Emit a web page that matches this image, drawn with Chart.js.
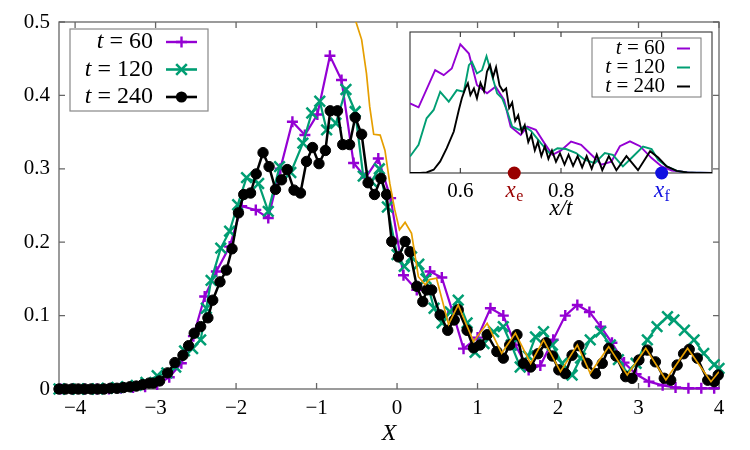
<!DOCTYPE html>
<html><head><meta charset="utf-8">
<script src="https://cdn.jsdelivr.net/npm/chart.js@4.4.1/dist/chart.umd.min.js"></script>
<style>
html,body{margin:0;padding:0;background:#fff;}
#wrap{position:relative;width:750px;height:450px;}
canvas{position:absolute;left:0;top:0;}
</style></head><body>
<div id="wrap"><canvas id="main" width="750" height="450"></canvas><canvas id="inset" width="750" height="450"></canvas></div>
<script>
// ---------- main chart data ----------
const times = [60, 120, 240];
const xTicks = [-4,-3,-2,-1,0,1,2,3,4];
const xTickLabels = ['−4','−3','−2','−1','0','1','2','3','4'];
const yTicks = [0,0.1,0.2,0.3,0.4,0.5];
const yTickLabels = ['0','0.1','0.2','0.3','0.4','0.5'];

const t60X = [-4.18,-4.03,-3.88,-3.73,-3.58,-3.43,-3.28,-3.13,-2.98,-2.83,-2.68,-2.53,-2.39,-2.245,-2.08,-1.93,-1.755,-1.60,-1.45,-1.30,-1.145,-0.99,-0.834,-0.69,-0.54,-0.39,-0.233,-0.08,0.08,0.245,0.41,0.556,0.69,0.826,1.00,1.16,1.32,1.47,1.635,1.78,1.94,2.09,2.24,2.39,2.53,2.67,2.82,2.97,3.13,3.30,3.46,3.62,3.78,3.94];
const t60Y = [0,0,0,0,0,0.001,0.002,0.003,0.006,0.016,0.035,0.072,0.126,0.160,0.194,0.249,0.244,0.233,0.300,0.364,0.346,0.374,0.454,0.421,0.308,0.288,0.314,0.260,0.155,0.135,0.160,0.152,0.105,0.055,0.070,0.110,0.100,0.060,0.026,0.032,0.067,0.100,0.1145,0.105,0.085,0.063,0.036,0.020,0.010,0.005,0.002,0.001,0.001,0.001];

const t120X = [-4.20,-4.08,-3.96,-3.84,-3.72,-3.60,-3.48,-3.36,-3.24,-3.12,-2.98,-2.86,-2.75,-2.64,-2.54,-2.44,-2.37,-2.31,-2.19,-2.08,-1.98,-1.87,-1.72,-1.60,-1.46,-1.32,-1.17,-1.06,-0.96,-0.875,-0.76,-0.635,-0.52,-0.42,-0.32,-0.22,-0.12,0.00,0.09,0.18,0.27,0.36,0.46,0.56,0.66,0.76,0.87,0.97,1.08,1.20,1.32,1.42,1.53,1.63,1.72,1.82,1.93,2.05,2.175,2.28,2.40,2.53,2.65,2.75,2.86,2.97,3.11,3.23,3.36,3.44,3.57,3.69,3.81,3.94,4.00];
const t120Y = [0,0,0,0,0,0.001,0.002,0.003,0.005,0.009,0.018,0.022,0.030,0.052,0.055,0.067,0.110,0.148,0.192,0.215,0.251,0.288,0.280,0.242,0.303,0.295,0.335,0.376,0.392,0.353,0.362,0.408,0.378,0.290,0.283,0.300,0.248,0.183,0.167,0.180,0.170,0.150,0.110,0.090,0.105,0.121,0.090,0.050,0.062,0.078,0.085,0.060,0.030,0.045,0.071,0.078,0.060,0.035,0.019,0.042,0.067,0.078,0.060,0.040,0.022,0.035,0.067,0.085,0.0986,0.094,0.080,0.067,0.0486,0.033,0.028];

const t240X = [-4.20,-4.12,-4.04,-3.96,-3.88,-3.80,-3.72,-3.64,-3.56,-3.48,-3.40,-3.32,-3.24,-3.16,-3.08,-3.03,-2.95,-2.85,-2.76,-2.66,-2.59,-2.52,-2.44,-2.35,-2.29,-2.20,-2.12,-2.05,-1.97,-1.905,-1.82,-1.75,-1.665,-1.59,-1.51,-1.435,-1.365,-1.28,-1.20,-1.125,-1.05,-0.97,-0.89,-0.83,-0.74,-0.675,-0.59,-0.52,-0.44,-0.36,-0.28,-0.20,-0.13,-0.066,0.017,0.10,0.16,0.245,0.32,0.37,0.43,0.535,0.63,0.71,0.76,0.87,0.95,1.03,1.12,1.24,1.32,1.40,1.49,1.57,1.66,1.75,1.85,1.93,2.01,2.09,2.175,2.26,2.36,2.465,2.55,2.63,2.72,2.84,2.92,3.005,3.11,3.21,3.32,3.40,3.48,3.56,3.63,3.73,3.86,3.94,3.99];
const t240Y = [0,0,0,0,0,0,0,0,0.001,0.001,0.002,0.003,0.004,0.006,0.008,0.008,0.011,0.022,0.036,0.046,0.059,0.076,0.085,0.097,0.121,0.146,0.162,0.191,0.240,0.265,0.267,0.293,0.322,0.303,0.272,0.285,0.299,0.271,0.267,0.310,0.329,0.307,0.325,0.379,0.379,0.333,0.333,0.370,0.347,0.281,0.265,0.287,0.265,0.201,0.180,0.201,0.187,0.140,0.119,0.135,0.135,0.101,0.080,0.094,0.108,0.080,0.056,0.060,0.074,0.051,0.042,0.060,0.074,0.035,0.030,0.048,0.063,0.045,0.026,0.021,0.046,0.059,0.035,0.021,0.035,0.0555,0.045,0.0168,0.0146,0.0395,0.053,0.037,0.0146,0.012,0.0327,0.048,0.054,0.042,0.012,0.010,0.019];

const theoryX = [-0.56,-0.51,-0.44,-0.38,-0.34,-0.29,-0.21,-0.15,-0.09,-0.03,0.03,0.10,0.18,0.265,0.35,0.40,0.49,0.64,0.76,0.95,1.12,1.30,1.47,1.66,1.82,2.03,2.24,2.40,2.63,2.86,3.09,3.34,3.61,3.90,4.00];
const theoryY = [0.56,0.50,0.476,0.43,0.385,0.347,0.346,0.325,0.280,0.245,0.217,0.227,0.212,0.153,0.142,0.149,0.151,0.088,0.1145,0.0645,0.0895,0.0486,0.076,0.035,0.0668,0.0236,0.060,0.0214,0.0577,0.019,0.0555,0.0123,0.0555,0.010,0.0236];

// ---------- inset data (x/t) ----------
const insetTicks = [0.6, 0.7071, 0.8, 1.0];
const insetTickLabels = ['0.6', '', '0.8', ''];
const markerX = [0.7071, 1.0];
const markerSub = ['e', 'f'];

const in60X = [0.50,0.517,0.55,0.567,0.583,0.60,0.617,0.633,0.653,0.67,0.687,0.70,0.72,0.733,0.75,0.767,0.783,0.80,0.82,0.84,0.867,0.88,0.90,0.917,0.937,0.957,0.98,1.00,1.02,1.053,1.10];
const in60Y = [0.494,0.466,0.73,0.694,0.741,0.913,0.847,0.624,0.565,0.612,0.518,0.329,0.27,0.329,0.306,0.212,0.129,0.16,0.223,0.20,0.106,0.059,0.08,0.19,0.225,0.19,0.106,0.047,0.018,0.004,0];

const in120X = [0.50,0.517,0.533,0.547,0.56,0.577,0.593,0.607,0.617,0.623,0.633,0.643,0.652,0.66,0.673,0.683,0.693,0.703,0.717,0.727,0.74,0.76,0.777,0.793,0.81,0.83,0.847,0.867,0.887,0.903,0.923,0.943,0.963,0.98,0.993,1.01,1.03,1.05,1.10];
const in120Y = [0.117,0.20,0.388,0.447,0.576,0.506,0.588,0.576,0.765,0.788,0.706,0.729,0.828,0.729,0.565,0.53,0.44,0.329,0.306,0.33,0.30,0.212,0.141,0.176,0.17,0.141,0.094,0.07,0.141,0.129,0.047,0.117,0.188,0.169,0.094,0.047,0.015,0.004,0];

const in240X = [0.50,0.52,0.533,0.547,0.56,0.573,0.587,0.597,0.603,0.61,0.615,0.62,0.627,0.633,0.64,0.647,0.653,0.659,0.665,0.671,0.678,0.685,0.691,0.697,0.703,0.709,0.715,0.722,0.728,0.735,0.741,0.748,0.754,0.761,0.768,0.775,0.782,0.79,0.798,0.807,0.815,0.824,0.833,0.842,0.851,0.861,0.871,0.882,0.895,0.91,0.93,0.953,0.977,0.993,1.01,1.03,1.05,1.07,1.10];
const in240Y = [0,0.001,0.004,0.023,0.082,0.176,0.294,0.447,0.53,0.60,0.636,0.553,0.60,0.53,0.64,0.58,0.72,0.765,0.68,0.75,0.62,0.58,0.60,0.46,0.50,0.37,0.41,0.29,0.34,0.22,0.27,0.16,0.22,0.12,0.19,0.10,0.16,0.08,0.14,0.06,0.13,0.05,0.12,0.04,0.12,0.03,0.13,0.02,0.12,0.02,0.12,0.02,0.155,0.11,0.047,0.015,0.004,0.001,0];

// ---------- helpers ----------
const pts = (xs, ys) => xs.map((x, i) => ({x, y: ys[i]}));
const COL = {p: '#9400D3', g: '#009E73', k: '#000000', o: '#E69F00', e: '#990000', f: '#1010E0'};
const SERIF = '"Liberation Serif", "DejaVu Serif", serif';

function drawMark(ctx, style, cx, cy, r, color, lw) {
  ctx.save();
  ctx.strokeStyle = color; ctx.fillStyle = color; ctx.lineWidth = lw;
  ctx.beginPath();
  if (style === 'cross') { ctx.moveTo(cx - r, cy); ctx.lineTo(cx + r, cy); ctx.moveTo(cx, cy - r); ctx.lineTo(cx, cy + r); ctx.stroke(); }
  else if (style === 'crossRot') { const d = r * 0.7071; ctx.moveTo(cx - d, cy - d); ctx.lineTo(cx + d, cy + d); ctx.moveTo(cx + d, cy - d); ctx.lineTo(cx - d, cy + d); ctx.stroke(); }
  else if (style === 'circle') { ctx.arc(cx, cy, r, 0, Math.PI * 2); ctx.fill(); }
  ctx.restore();
}

function drawTLabel(ctx, t, rightX, cy, size) {
  const rest = ' = ' + t;
  ctx.font = size + 'px ' + SERIF;
  const w2 = ctx.measureText(rest).width;
  ctx.font = 'italic ' + size + 'px ' + SERIF;
  const w1 = ctx.measureText('t').width;
  ctx.textBaseline = 'middle'; ctx.textAlign = 'left'; ctx.fillStyle = '#000';
  ctx.fillText('t', rightX - w1 - w2, cy);
  ctx.font = size + 'px ' + SERIF;
  ctx.fillText(rest, rightX - w2, cy);
}

const mainStyles = [
  {c: COL.p, s: 'cross', r: 5.5, lw: 2.4},
  {c: COL.g, s: 'crossRot', r: 7.5, lw: 2.6},
  {c: COL.k, s: 'circle', r: 5.6, lw: 2.6}
];

const mainDecor = {
  id: 'mainDecor',
  beforeDatasetsDraw(chart) {
    const {ctx, chartArea: a, scales: {x, y}} = chart;
    ctx.save();
    ctx.strokeStyle = '#666'; ctx.lineWidth = 1.3;
    ctx.strokeRect(a.left, a.top, a.right - a.left, a.bottom - a.top);
    ctx.beginPath();
    x.ticks.forEach(t => { const px = x.getPixelForValue(t.value); ctx.moveTo(px, a.bottom); ctx.lineTo(px, a.bottom - 6); ctx.moveTo(px, a.top); ctx.lineTo(px, a.top + 6); });
    y.ticks.forEach(t => { const py = y.getPixelForValue(t.value); ctx.moveTo(a.left, py); ctx.lineTo(a.left + 6, py); ctx.moveTo(a.right, py); ctx.lineTo(a.right - 6, py); });
    ctx.stroke();
    ctx.restore();
  },
  afterDatasetsDraw(chart) {
    const ctx = chart.ctx;
    ctx.save();
    ctx.fillStyle = '#fff'; ctx.strokeStyle = '#888'; ctx.lineWidth = 1.2;
    ctx.fillRect(70, 29, 138, 82); ctx.strokeRect(70, 29, 138, 82);
    const rows = [42, 69.5, 97];
    times.forEach((t, i) => {
      drawTLabel(ctx, t, 153, rows[i], 24);
      const st = mainStyles[i];
      ctx.strokeStyle = st.c; ctx.lineWidth = st.lw;
      ctx.beginPath(); ctx.moveTo(166, rows[i]); ctx.lineTo(197, rows[i]); ctx.stroke();
      drawMark(ctx, st.s, 181.5, rows[i], st.r, st.c, st.s === 'circle' ? 1 : st.lw);
    });
    ctx.restore();
  }
};

new Chart(document.getElementById('main'), {
  type: 'scatter',
  data: {
    datasets: [
      {label: 'theory', data: pts(theoryX, theoryY), showLine: true, borderColor: COL.o, borderWidth: 1.7, pointRadius: 0, fill: false, tension: 0},
      {label: 't = 240', data: pts(t240X, t240Y), showLine: true, borderColor: COL.k, borderWidth: 2.5, pointStyle: 'circle', pointRadius: 5.2, pointBorderWidth: 1, pointBackgroundColor: COL.k, pointBorderColor: COL.k, clip: false},
      {label: 't = 120', data: pts(t120X, t120Y), showLine: true, borderColor: COL.g, borderWidth: 2.2, pointStyle: 'crossRot', pointRadius: 7.5, pointBorderWidth: 2.5, pointBorderColor: COL.g, clip: false},
      {label: 't = 60', data: pts(t60X, t60Y), showLine: true, borderColor: COL.p, borderWidth: 2.2, pointStyle: 'cross', pointRadius: 5.5, pointBorderWidth: 2.4, pointBorderColor: COL.p, clip: false}
    ]
  },
  options: {
    responsive: false, animation: false, devicePixelRatio: 1,
    layout: {padding: {top: 22, right: 31, left: 0, bottom: 0}},
    plugins: {legend: {display: false}, tooltip: {enabled: false}},
    scales: {
      x: {
        type: 'linear', min: -4.2, max: 4,
        afterBuildTicks: s => { s.ticks = xTicks.map(v => ({value: v})); },
        afterFit: s => { s.height = 61; },
        grid: {display: false, drawTicks: false}, border: {display: false},
        ticks: {padding: 7, color: '#000', font: {family: SERIF, size: 21}, maxRotation: 0,
          callback: (v) => xTickLabels[xTicks.indexOf(v)] ?? ''},
        title: {display: true, text: 'X', color: '#000', font: {family: SERIF, size: 24, style: 'italic'}, padding: {top: 0, bottom: 2}}
      },
      y: {
        type: 'linear', min: 0, max: 0.5,
        afterBuildTicks: s => { s.ticks = yTicks.map(v => ({value: v})); },
        afterFit: s => { s.width = 59; },
        grid: {display: false, drawTicks: false}, border: {display: false},
        ticks: {padding: 9, color: '#000', font: {family: SERIF, size: 21},
          callback: (v) => yTickLabels[yTicks.indexOf(v)] ?? ''}
      }
    }
  },
  plugins: [mainDecor]
});

// ---------- inset ----------
const insetStyles = [COL.p, COL.g, COL.k];
const insetDecor = {
  id: 'insetDecor',
  beforeDatasetsDraw(chart) {
    const {ctx, chartArea: a, scales: {x}} = chart;
    ctx.save();
    ctx.fillStyle = '#fff';
    ctx.fillRect(a.left, a.top, a.right - a.left, a.bottom - a.top);
    ctx.strokeStyle = '#333'; ctx.lineWidth = 1.1;
    ctx.strokeRect(a.left, a.top, a.right - a.left, a.bottom - a.top);
    ctx.beginPath();
    x.ticks.forEach(t => { const px = x.getPixelForValue(t.value); ctx.moveTo(px, a.bottom); ctx.lineTo(px, a.bottom - 5); ctx.moveTo(px, a.top); ctx.lineTo(px, a.top + 5); });
    ctx.stroke();
    ctx.restore();
  },
  afterDatasetsDraw(chart) {
    const {ctx, chartArea: a, scales: {x}} = chart;
    ctx.save();
    // legend
    ctx.fillStyle = '#fff'; ctx.strokeStyle = '#777'; ctx.lineWidth = 1;
    ctx.fillRect(592, 38, 109, 59); ctx.strokeRect(592, 38, 109, 59);
    const rows = [48.5, 67.5, 86.5];
    times.forEach((t, i) => {
      drawTLabel(ctx, t, 665, rows[i], 21);
      ctx.strokeStyle = insetStyles[i]; ctx.lineWidth = 2;
      ctx.beginPath(); ctx.moveTo(677, rows[i]); ctx.lineTo(690, rows[i]); ctx.stroke();
    });
    // x_e, x_f labels
    const cols = [COL.e, COL.f];
    markerX.forEach((v, i) => {
      const px = x.getPixelForValue(v);
      ctx.fillStyle = cols[i]; ctx.textBaseline = 'alphabetic'; ctx.textAlign = 'left';
      ctx.font = 'italic 23px ' + SERIF;
      const wx = ctx.measureText('x').width;
      ctx.font = '16px ' + SERIF;
      const ws = ctx.measureText(markerSub[i]).width;
      const start = px - (wx + ws) / 2;
      ctx.font = 'italic 23px ' + SERIF;
      ctx.fillText('x', start, 197);
      ctx.font = '16px ' + SERIF;
      ctx.fillText(markerSub[i], start + wx + 0.5, 201);
    });
    ctx.restore();
  }
};

new Chart(document.getElementById('inset'), {
  type: 'scatter',
  data: {
    datasets: [
      {label: 'markers', data: markerX.map(v => ({x: v, y: 0})), showLine: false, pointRadius: 6.5, pointBorderWidth: 0, pointBackgroundColor: [COL.e, COL.f], pointBorderColor: [COL.e, COL.f], clip: false},
      {label: 't = 240', data: pts(in240X, in240Y), showLine: true, borderColor: COL.k, borderWidth: 1.9, pointRadius: 0},
      {label: 't = 120', data: pts(in120X, in120Y), showLine: true, borderColor: COL.g, borderWidth: 1.9, pointRadius: 0},
      {label: 't = 60', data: pts(in60X, in60Y), showLine: true, borderColor: COL.p, borderWidth: 1.9, pointRadius: 0}
    ]
  },
  options: {
    responsive: false, animation: false, devicePixelRatio: 1,
    layout: {padding: {top: 32, right: 38, left: 410, bottom: 0}},
    plugins: {legend: {display: false}, tooltip: {enabled: false}},
    scales: {
      x: {
        type: 'linear', min: 0.5, max: 1.1,
        afterBuildTicks: s => { s.ticks = insetTicks.map(v => ({value: v})); },
        afterFit: s => { s.height = 277; },
        grid: {display: false, drawTicks: false}, border: {display: false},
        ticks: {padding: 6, color: '#000', font: {family: SERIF, size: 21}, maxRotation: 0,
          callback: (v) => insetTickLabels[insetTicks.indexOf(v)] ?? ''},
        title: {display: true, text: 'x/t', color: '#000', font: {family: SERIF, size: 23, style: 'italic'}, padding: {top: 0, bottom: 227}}
      },
      y: {type: 'linear', min: 0, max: 1, display: false}
    }
  },
  plugins: [insetDecor]
});
</script>
</body></html>
